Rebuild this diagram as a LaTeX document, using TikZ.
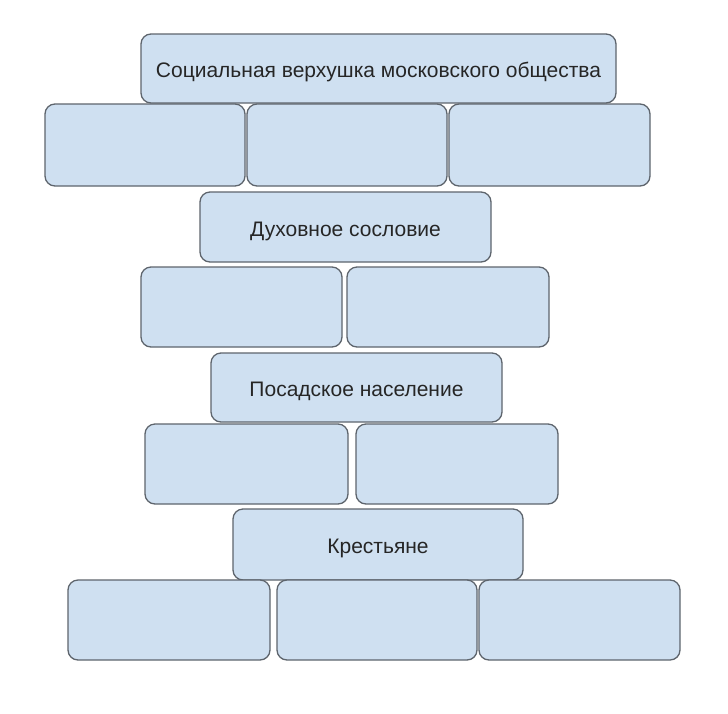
\documentclass[tikz,border=0pt]{standalone}
\usepackage{fontspec}
\setmainfont{Liberation Sans}
\definecolor{boxfill}{HTML}{CFE0F1}
\definecolor{boxline}{HTML}{5E656D}
\definecolor{txt}{HTML}{262626}
\tikzset{
  brick/.style={draw=boxline, fill=boxfill, line width=1.3pt, rounded corners=10pt,
    inner sep=0pt, text height=18.5pt, text depth=0pt,
    font=\fontsize{21}{24}\selectfont, text=txt}
}
\begin{document}
\begin{tikzpicture}[x=1pt,y=-1pt]
\path[use as bounding box, fill=white] (0,0) rectangle (728,713);
\node[brick, minimum width=475pt, minimum height=69pt] (top) at (378.5,68.5) {Социальная верхушка московского общества};
\node[brick, minimum width=200pt, minimum height=82pt] (r2a) at (145,145) {};
\node[brick, minimum width=200pt, minimum height=82pt] (r2b) at (347,145) {};
\node[brick, minimum width=201pt, minimum height=82pt] (r2c) at (549.5,145) {};
\node[brick, minimum width=291pt, minimum height=70pt] (dux) at (345.5,227) {Духовное сословие};
\node[brick, minimum width=201pt, minimum height=80pt] (r4a) at (241.5,307) {};
\node[brick, minimum width=202pt, minimum height=80pt] (r4b) at (448,307) {};
\node[brick, minimum width=291pt, minimum height=69pt] (pos) at (356.5,387.5) {Посадское население};
\node[brick, minimum width=203pt, minimum height=80pt] (r6a) at (246.5,464) {};
\node[brick, minimum width=202pt, minimum height=80pt] (r6b) at (457,464) {};
\node[brick, minimum width=290pt, minimum height=71pt] (kr) at (378,544.5) {Крестьяне};
\node[brick, minimum width=202pt, minimum height=80pt] (r8a) at (169,620) {};
\node[brick, minimum width=200pt, minimum height=80pt] (r8b) at (377,620) {};
\node[brick, minimum width=201pt, minimum height=80pt] (r8c) at (579.5,620) {};
\end{tikzpicture}
\end{document}
